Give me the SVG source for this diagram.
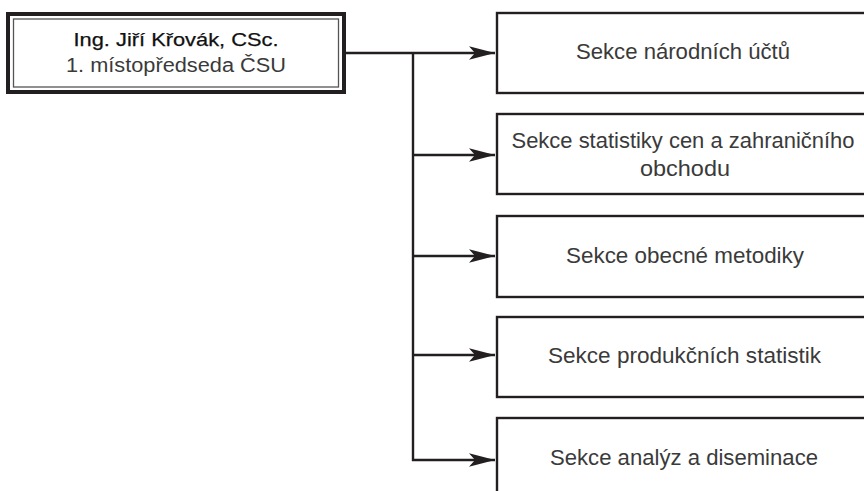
<svg xmlns="http://www.w3.org/2000/svg" width="864" height="491" viewBox="0 0 864 491">
<style>
.box{fill:#fff;stroke:#231f20;stroke-width:2.4}
.t{font-family:"Liberation Sans",Arial,sans-serif;font-size:22px;fill:#3a3a3a;text-anchor:middle}
.h1{font-family:"Liberation Sans",Arial,sans-serif;font-size:19px;fill:#111;stroke:#111;stroke-width:0.25;text-anchor:middle}
.h2{font-family:"Liberation Sans",Arial,sans-serif;font-size:19.5px;fill:#3a3a3a;text-anchor:middle}
.con{fill:none;stroke:#231f20;stroke-width:2.4}
</style>
<defs>
<marker id="arr" markerUnits="userSpaceOnUse" markerWidth="28" markerHeight="16" refX="26" refY="8" orient="auto">
<path d="M0,1.2 L26,8 L0,14.8 L6,8 Z" fill="#231f20"/>
</marker>
</defs>
<rect width="864" height="491" fill="#fff"/>
<g id="head">
<rect x="8" y="14" width="336" height="78" fill="#fff" stroke="#231f20" stroke-width="4"/>
<rect x="13.5" y="19" width="325" height="68" fill="none" stroke="#555" stroke-width="1.3"/>
<text class="h1" x="176" y="45.5" textLength="205" lengthAdjust="spacingAndGlyphs">Ing. Jiří Křovák, CSc.</text>
<text class="h2" x="176" y="71.5" textLength="220" lengthAdjust="spacingAndGlyphs">1. místopředseda ČSU</text>
</g>
<g id="connectors">
<path class="con" d="M346,53 H495" marker-end="url(#arr)"/>
<path class="con" d="M413,53 V461"/>
<path class="con" d="M412,155 H495" marker-end="url(#arr)"/>
<path class="con" d="M412,256 H495" marker-end="url(#arr)"/>
<path class="con" d="M412,355 H495" marker-end="url(#arr)"/>
<path class="con" d="M412,460 H495" marker-end="url(#arr)"/>
</g>
<g id="s1">
<rect class="box" x="497" y="13" width="380" height="80"/>
<text class="t" x="683" y="59" textLength="214" lengthAdjust="spacingAndGlyphs">Sekce národních účtů</text>
</g>
<g id="s2">
<rect class="box" x="497" y="114" width="380" height="80"/>
<text class="t" x="683" y="148" textLength="343" lengthAdjust="spacingAndGlyphs">Sekce statistiky cen a zahraničního</text>
<text class="t" x="685" y="175.5" textLength="90" lengthAdjust="spacingAndGlyphs">obchodu</text>
</g>
<g id="s3">
<rect class="box" x="497" y="216" width="380" height="81"/>
<text class="t" x="685" y="263" textLength="238" lengthAdjust="spacingAndGlyphs">Sekce obecné metodiky</text>
</g>
<g id="s4">
<rect class="box" x="497" y="317" width="380" height="80"/>
<text class="t" x="684.5" y="363" textLength="273" lengthAdjust="spacingAndGlyphs">Sekce produkčních statistik</text>
</g>
<g id="s5">
<rect class="box" x="497" y="418" width="380" height="90"/>
<text class="t" x="684" y="464.5" textLength="268" lengthAdjust="spacingAndGlyphs">Sekce analýz a diseminace</text>
</g>
</svg>
